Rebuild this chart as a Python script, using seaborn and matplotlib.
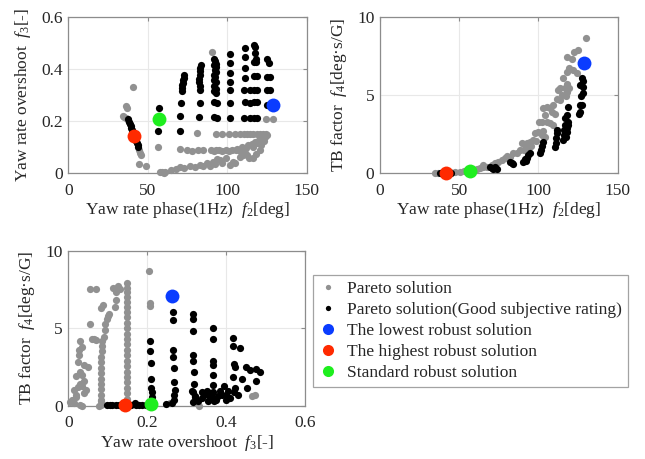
import matplotlib
matplotlib.use('Agg')
import numpy as np
import pandas as pd
import matplotlib.pyplot as plt
from matplotlib.lines import Line2D
import seaborn as sns

# Colours
GRAY = '#919191'
BLUE = '#0a3cff'
RED = '#ff2a00'
GREEN = '#1eee1e'

# Panel 1: f2 (yaw rate phase) vs f3 (yaw rate overshoot)
p1_gray = [
    (40.5, 0.331), (36.1, 0.259), (37.0, 0.252), (34.2, 0.222), (35.3, 0.218), (36.5, 0.212),
    (37.5, 0.205), (44.6, 0.088), (45.1, 0.078), (45.6, 0.070), (44.5, 0.035), (48.9, 0.027),
    (56.5, 0.100), (57.7, 0.006), (59.0, 0.004), (60.2, 0.003), (61.0, 0.004),
    (64.5, 0.012), (67.5, 0.018), (70.3, 0.025), (73.0, 0.022), (76.6, 0.028), (79.5, 0.024),
    (82.9, 0.032), (85.0, 0.030), (87.1, 0.038), (89.0, 0.028), (91.3, 0.045), (92.5, 0.035),
    (93.5, 0.055), (95.5, 0.051), (97.0, 0.040), (99.0, 0.060), (101.8, 0.032), (103.5, 0.045),
    (105.0, 0.040), (108.0, 0.064), (110.0, 0.070), (112.3, 0.070), (114.0, 0.060), (116.4, 0.058),
    (70.0, 0.092), (74.5, 0.088), (78.0, 0.086), (81.5, 0.088), (84.5, 0.090), (89.5, 0.088),
    (91.5, 0.086), (93.0, 0.088), (95.0, 0.090), (97.0, 0.086), (99.0, 0.088), (101.0, 0.086),
    (103.0, 0.088), (105.5, 0.090), (108.0, 0.086), (110.5, 0.088),
    (106.0, 0.094), (109.0, 0.100), (112.0, 0.098), (113.0, 0.108), (115.5, 0.112), (116.0, 0.100),
    (117.5, 0.120), (119.0, 0.118), (120.0, 0.128), (121.0, 0.110), (122.0, 0.134), (123.0, 0.124),
    (124.0, 0.140), (125.0, 0.146), (118.0, 0.075), (120.5, 0.088), (111.0, 0.078),
    (80.8, 0.156), (93.0, 0.152), (97.0, 0.152), (101.0, 0.150), (105.0, 0.152), (108.0, 0.150),
    (110.5, 0.152), (112.5, 0.150), (114.5, 0.152), (116.5, 0.150), (118.5, 0.152), (120.5, 0.150),
    (122.5, 0.152), (124.5, 0.150), (124.4, 0.208), (129.0, 0.208), (90.6, 0.467),
]
p1_black = [
    (37.8, 0.207), (38.3, 0.198), (38.8, 0.190), (39.2, 0.182), (39.7, 0.174), (40.1, 0.166),
    (40.6, 0.158), (41.1, 0.150), (41.6, 0.142), (42.1, 0.134), (42.6, 0.126), (43.1, 0.118),
    (43.6, 0.110), (44.1, 0.102),
    (57.1, 0.252), (56.3, 0.163),
    (72.8, 0.378), (72.5, 0.368), (72.2, 0.358), (72.0, 0.348), (71.8, 0.338), (71.6, 0.328),
    (71.4, 0.316), (70.7, 0.269), (70.3, 0.222), (70.0, 0.164),
    (83.2, 0.418), (83.0, 0.405), (82.8, 0.392), (82.6, 0.378), (82.4, 0.364), (82.4, 0.350),
    (82.6, 0.334), (82.7, 0.320), (82.7, 0.272), (82.5, 0.218),
    (91.5, 0.440), (92.3, 0.432), (92.8, 0.422), (91.5, 0.415), (93.0, 0.408), (92.0, 0.398),
    (93.2, 0.390), (91.8, 0.380), (92.6, 0.370), (91.6, 0.358), (93.0, 0.350), (91.8, 0.336),
    (92.8, 0.326), (91.7, 0.316), (93.0, 0.310), (91.6, 0.275), (93.3, 0.272), (91.8, 0.216),
    (93.5, 0.214),
    (101.8, 0.459), (101.8, 0.423), (101.8, 0.385), (101.8, 0.350), (101.8, 0.320), (101.8, 0.272),
    (101.8, 0.214),
    (111.0, 0.481), (111.2, 0.446), (111.2, 0.406), (111.0, 0.368), (110.8, 0.320), (111.0, 0.274),
    (110.5, 0.212), (114.4, 0.320), (114.4, 0.272), (114.4, 0.212),
    (116.9, 0.494), (117.6, 0.484), (117.2, 0.462), (118.0, 0.440), (116.9, 0.430), (118.3, 0.430),
    (116.9, 0.373), (118.5, 0.373), (116.9, 0.320), (118.5, 0.320), (116.9, 0.275), (118.5, 0.275),
    (116.9, 0.212), (118.5, 0.212),
    (124.8, 0.438), (126.5, 0.425), (125.0, 0.372), (127.0, 0.372), (125.0, 0.320), (127.0, 0.320),
    (124.8, 0.263),
]

# Panel 2: f2 vs f4 (TB factor)
p2_gray = [
    (34.7, 0.02), (36.5, 0.04), (38.9, 0.04), (44.0, 0.06), (47.5, 0.08), (50.5, 0.10), (53.0, 0.12),
    (61.0, 0.28), (63.0, 0.32), (65.2, 0.42), (65.2, 0.53), (67.3, 0.42), (70.5, 0.53), (72.6, 0.64),
    (74.6, 0.74), (76.8, 0.85), (78.9, 0.96), (79.9, 1.10), (82.0, 1.06), (84.1, 1.28), (86.2, 1.28),
    (88.3, 1.49), (89.5, 1.95), (91.0, 1.50), (91.5, 1.81), (92.5, 1.92), (93.6, 1.70), (94.6, 2.03),
    (95.5, 1.75), (96.7, 2.13), (97.8, 2.56), (98.5, 2.10), (99.9, 2.67), (100.5, 3.30), (102.0, 2.46),
    (103.0, 2.70), (104.1, 2.35), (102.0, 3.31), (104.1, 3.74), (105.2, 3.31), (107.3, 3.20),
    (109.4, 3.10), (103.0, 4.20), (105.2, 4.27), (107.3, 4.17), (108.4, 3.95), (109.4, 4.38),
    (110.5, 3.80), (111.9, 4.76), (113.6, 4.70), (114.6, 5.02), (117.4, 4.98), (112.5, 5.34),
    (113.6, 5.45), (116.7, 5.45), (118.2, 5.20), (118.2, 5.70), (119.5, 5.50), (115.7, 6.09),
    (118.2, 6.51), (119.5, 6.73), (122.0, 6.62), (124.0, 6.41), (120.9, 7.33), (118.2, 7.47),
    (122.6, 7.75), (124.7, 7.90), (130.0, 8.69),
]
p2_black = [
    (38.0, 0.02), (39.5, 0.02), (41.0, 0.03), (43.5, 0.03), (44.5, 0.04), (57.0, 0.10),
    (69.4, 0.42), (70.5, 0.35), (71.5, 0.30), (72.6, 0.38), (73.6, 0.28),
    (82.0, 0.74), (83.0, 0.66), (84.1, 0.58),
    (90.4, 0.74), (91.5, 0.90), (92.5, 1.00), (93.6, 1.15), (94.6, 1.32), (92.0, 0.80),
    (101.0, 1.28), (101.5, 1.50), (102.0, 1.75), (102.6, 2.03),
    (110.4, 1.70), (110.8, 1.95), (111.2, 2.24), (111.5, 2.56), (111.9, 2.78),
    (115.5, 2.13), (116.0, 2.45), (116.2, 2.80), (116.5, 3.10), (116.7, 3.53), (117.5, 2.35),
    (118.0, 2.67), (118.2, 2.88), (118.5, 3.10), (118.8, 3.31), (118.3, 3.74), (118.8, 4.27),
    (127.2, 6.09), (128.3, 5.92), (126.2, 5.66), (127.9, 5.55), (128.3, 5.13), (126.6, 4.97),
    (126.2, 4.38), (127.2, 4.38), (126.2, 3.91), (125.8, 3.78),
]

# Panel 3: f3 vs f4
p3_gray = [
    (0.148, 7.90), (0.148, 7.60), (0.148, 7.35), (0.148, 7.00), (0.148, 6.70), (0.148, 6.40),
    (0.148, 6.05), (0.148, 5.70), (0.148, 5.35), (0.148, 5.00), (0.148, 4.65), (0.148, 4.30),
    (0.148, 3.95), (0.148, 3.60), (0.148, 3.25), (0.148, 2.90), (0.148, 2.55), (0.148, 2.20),
    (0.148, 1.85), (0.148, 1.50), (0.148, 1.15), (0.148, 0.80), (0.148, 0.45), (0.148, 0.15),
    (0.087, 6.50), (0.083, 6.30), (0.101, 5.80), (0.097, 5.60), (0.104, 5.90), (0.092, 5.25),
    (0.092, 4.86), (0.090, 4.43), (0.086, 4.20), (0.085, 3.85), (0.085, 3.50), (0.084, 3.15),
    (0.084, 2.80), (0.084, 2.45), (0.084, 2.10), (0.084, 1.75), (0.084, 1.40), (0.084, 1.05),
    (0.084, 0.70), (0.084, 0.35), (0.083, 0.05),
    (0.055, 7.50), (0.069, 7.50), (0.114, 7.60), (0.126, 7.75), (0.130, 7.50), (0.122, 7.35),
    (0.122, 6.80), (0.118, 6.40), (0.205, 8.71), (0.207, 6.60), (0.207, 6.45),
    (0.055, 5.30), (0.059, 4.30), (0.065, 4.30), (0.070, 4.25), (0.030, 4.20), (0.027, 3.30),
    (0.026, 3.60), (0.035, 3.80), (0.051, 2.52), (0.040, 2.60), (0.025, 2.80), (0.030, 2.20),
    (0.035, 2.00), (0.020, 1.90), (0.040, 1.60), (0.030, 1.40), (0.025, 1.20), (0.015, 1.00),
    (0.035, 1.25), (0.045, 1.00), (0.020, 0.70), (0.010, 0.40), (0.005, 0.25), (0.015, 0.15),
    (0.030, 0.05), (0.035, 0.00), (0.020, 0.55), (0.040, 0.80), (0.078, 0.00), (0.082, 0.30),
    (0.258, 0.16), (0.332, 0.00), (0.465, 0.65), (0.472, 0.70),
]
p3_black = [
    (0.098, 0.02), (0.105, 0.02), (0.112, 0.02), (0.120, 0.02), (0.128, 0.02), (0.136, 0.03),
    (0.152, 0.03), (0.160, 0.03), (0.168, 0.20), (0.172, 0.04), (0.180, 0.02), (0.188, 0.02),
    (0.196, 0.03),
    (0.207, 4.17), (0.208, 3.55), (0.209, 2.73), (0.210, 1.72), (0.210, 1.12), (0.212, 0.90),
    (0.213, 0.58), (0.212, 0.30),
    (0.265, 6.02), (0.265, 5.53), (0.266, 3.60), (0.266, 3.16), (0.267, 2.41), (0.268, 1.55),
    (0.270, 1.01), (0.268, 0.69), (0.267, 0.37), (0.248, 0.13), (0.262, 0.20),
    (0.315, 5.90), (0.315, 5.60), (0.315, 4.82), (0.316, 3.27), (0.316, 2.88), (0.318, 2.15),
    (0.318, 1.38), (0.317, 0.90), (0.317, 0.26), (0.320, 0.55), (0.313, 0.95),
    (0.367, 5.03), (0.367, 4.30), (0.368, 2.88), (0.368, 2.63), (0.368, 1.98), (0.368, 1.34),
    (0.366, 0.90), (0.366, 0.48),
    (0.418, 4.35), (0.418, 3.88), (0.435, 3.72), (0.420, 2.70), (0.422, 2.50), (0.418, 1.83),
    (0.423, 1.12), (0.420, 0.86),
    (0.451, 2.50), (0.460, 2.30), (0.476, 2.40), (0.486, 2.20), (0.475, 1.60), (0.440, 1.72),
    (0.454, 1.12), (0.430, 0.70),
    (0.330, 0.30), (0.340, 0.50), (0.345, 0.75), (0.351, 0.95), (0.355, 0.69), (0.360, 0.85),
    (0.375, 0.40), (0.385, 0.95), (0.390, 0.70), (0.400, 0.69), (0.405, 0.95), (0.410, 0.50),
    (0.395, 1.29), (0.340, 0.90), (0.322, 0.65), (0.355, 0.30), (0.380, 0.62), (0.370, 0.30),
    (0.400, 0.40),
]

# Robust solutions: lowest, highest, standard
robust_labels = ['The lowest robust solution', 'The highest robust solution', 'Standard robust solution']
robust_colors = [BLUE, RED, GREEN]
robust_f2 = [128.8, 41.6, 56.9]
robust_f3 = [0.263, 0.143, 0.209]
robust_f4 = [7.07, 0.02, 0.13]

legend_labels = ['Pareto solution', 'Pareto solution(Good subjective rating)'] + robust_labels

sns.set_style('white')
plt.rcParams['font.family'] = ['Liberation Serif', 'DejaVu Serif']
plt.rcParams['mathtext.fontset'] = 'custom'
plt.rcParams['mathtext.rm'] = 'Liberation Serif'
plt.rcParams['mathtext.it'] = 'Liberation Serif:italic'

FS = 12.5
TXT = '#262626'
EDGE = '#8c8c8c'


def to_df(pts, cols):
    return pd.DataFrame(pts, columns=cols)


def draw_panel(ax, gray, black, rx, ry, cols):
    g = to_df(gray, cols)
    b = to_df(black, cols)
    sns.scatterplot(data=g, x=cols[0], y=cols[1], ax=ax, color=GRAY, s=27,
                    linewidth=0, clip_on=False, zorder=3, legend=False)
    sns.scatterplot(data=b, x=cols[0], y=cols[1], ax=ax, color='black', s=27,
                    linewidth=0, clip_on=False, zorder=4, legend=False)
    for x, y, c in zip(rx, ry, robust_colors):
        sns.scatterplot(x=[x], y=[y], ax=ax, color=c, s=100, linewidth=0,
                        clip_on=False, zorder=5, legend=False)


def style(ax, xlim, ylim, xticks, yticks, xtl, ytl, xlabel, ylabel):
    ax.set_xlim(*xlim)
    ax.set_ylim(*ylim)
    ax.set_xticks(xticks)
    ax.set_yticks(yticks)
    ax.set_xticklabels(xtl)
    ax.set_yticklabels(ytl)
    ax.grid(True, color='#e8e8e8', lw=0.8)
    ax.set_axisbelow(True)
    for sp in ax.spines.values():
        sp.set_color(EDGE)
        sp.set_linewidth(0.9)
    ax.tick_params(direction='in', length=3, color=EDGE, top=True, right=True,
                   labelsize=FS, labelcolor=TXT)
    ax.tick_params(axis='x', pad=7)
    ax.tick_params(axis='y', pad=4)
    ax.set_xlabel(xlabel, fontsize=FS, color=TXT, labelpad=1)
    ax.set_ylabel(ylabel, fontsize=FS, color=TXT, labelpad=6)


fig = plt.figure(figsize=(6.45, 4.59), dpi=100)
ax1 = fig.add_axes([0.1059, 0.6224, 0.3696, 0.3399])
ax2 = fig.add_axes([0.5891, 0.6224, 0.3686, 0.3399])
ax3 = fig.add_axes([0.1059, 0.1161, 0.3670, 0.3377])

draw_panel(ax1, p1_gray, p1_black, robust_f2, robust_f3, ['f2', 'f3'])
draw_panel(ax2, p2_gray, p2_black, robust_f2, robust_f4, ['f2', 'f4'])
draw_panel(ax3, p3_gray, p3_black, robust_f3, robust_f4, ['f3', 'f4'])

f2_ticks = [0, 50, 100, 150]
f3_ticks = [0, 0.2, 0.4, 0.6]
f4_ticks = [0, 5, 10]
f2_tl = ['0', '50', '100', '150']
f3_tl = ['0', '0.2', '0.4', '0.6']
f4_tl = ['0', '5', '10']

lab_f2 = 'Yaw rate phase(1Hz)  $f_2$[deg]'
lab_f3 = 'Yaw rate overshoot  $f_3$[-]'
lab_f4 = 'TB factor  $f_4$[deg·s/G]'

style(ax1, (0, 150), (0, 0.6), f2_ticks, f3_ticks, f2_tl, f3_tl, lab_f2, lab_f3)
style(ax2, (0, 150), (0, 10), f2_ticks, f4_ticks, f2_tl, f4_tl, lab_f2, lab_f4)
style(ax3, (0, 0.6), (0, 10), f3_ticks, f4_ticks, f3_tl, f4_tl, lab_f3, lab_f4)

handles = [
    Line2D([], [], ls='none', marker='o', ms=3.8, mfc=GRAY, mec='none'),
    Line2D([], [], ls='none', marker='o', ms=3.8, mfc='black', mec='none'),
] + [Line2D([], [], ls='none', marker='o', ms=8, mfc=c, mec='none') for c in robust_colors]

leg = fig.legend(handles, legend_labels, loc='upper left',
                 bbox_to_anchor=(313 / 645, 1 - 275 / 459), frameon=True, fancybox=False,
                 edgecolor=EDGE, fontsize=FS, handlelength=1.0, handletextpad=0.6,
                 labelspacing=0.28, borderpad=0.35, borderaxespad=0)
leg.get_frame().set_linewidth(0.9)

fig.savefig('out.png', dpi=100)
